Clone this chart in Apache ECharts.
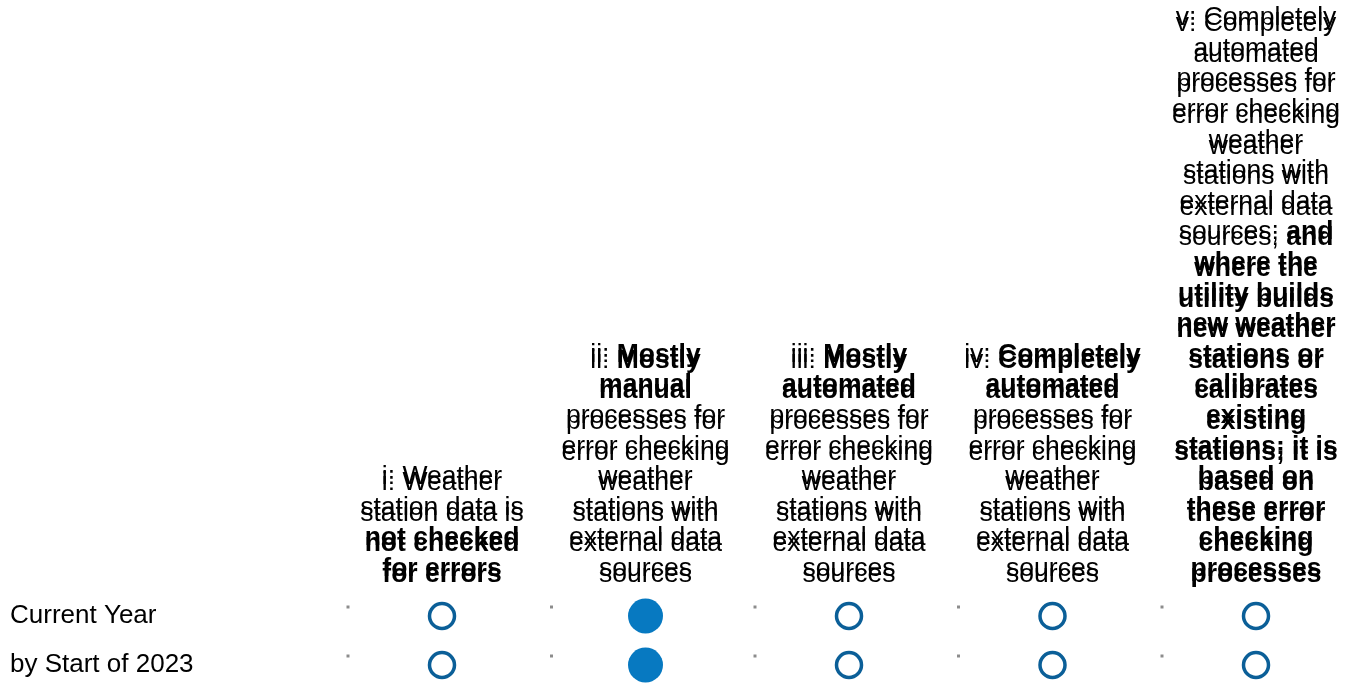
<!DOCTYPE html>
<html>
<head>
<meta charset="utf-8">
<script src="https://cdn.jsdelivr.net/npm/echarts@6/dist/echarts.min.js"></script>
<style>html,body{margin:0;padding:0;background:#fff}#c{width:1348px;height:684px}</style>
</head>
<body>
<div id="c"></div>
<script>
// Column headers: each line is a list of [text, bold]
const categories = ['i', 'ii', 'iii', 'iv', 'v'];
const headerLines = [
  [[['i: ',0],['Weather',0]], [['station data is',0]], [['not checked',1]], [['for errors',1]]],
  [[['ii: ',0],['Mostly',1]], [['manual',1]], [['processes for',0]], [['error checking',0]], [['weather',0]], [['stations with',0]], [['external data',0]], [['sources',0]]],
  [[['iii: ',0],['Mostly',1]], [['automated',1]], [['processes for',0]], [['error checking',0]], [['weather',0]], [['stations with',0]], [['external data',0]], [['sources',0]]],
  [[['iv: ',0],['Completely',1]], [['automated',1]], [['processes for',0]], [['error checking',0]], [['weather',0]], [['stations with',0]], [['external data',0]], [['sources',0]]],
  [[['v: Completely',0]], [['automated',0]], [['processes for',0]], [['error checking',0]], [['weather',0]], [['stations with',0]], [['external data',0]], [['sources; ',0],['and',1]], [['where the',1]], [['utility builds',1]], [['new weather',1]], [['stations or',1]], [['calibrates',1]], [['existing',1]], [['stations; it is',1]], [['based on',1]], [['these error',1]], [['checking',1]], [['processes',1]]]
];
const rows = ['Current Year', 'by Start of 2023'];
// 1 = selected (filled), 0 = not selected (ring)
const currentYear = [0, 1, 0, 0, 0];
const byStart2023 = [0, 1, 0, 0, 0];

const FONT = '"Liberation Sans", Arial, Helvetica, sans-serif';
const rowValues = [currentYear, byStart2023];
const headerText = headerLines.map(lines =>
  lines.map(line => line.map(([t, b]) => '{' + (b ? 'b' : 'n') + '|' + t + '}').join('')).join('\n')
);
const labelMap = {};
categories.forEach((c, i) => labelMap[c] = headerText[i]);

const filled = [], rings = [], marks = [];
rows.forEach((r, ri) => {
  rowValues[ri].forEach((v, ci) => {
    (v ? filled : rings).push([categories[ci], r]);
    marks.push([categories[ci], r]);
  });
});

const rich = {
  n: { fontSize: 26.5, lineHeight: 30.6, fontFamily: FONT, color: '#000' },
  b: { fontSize: 26.5, lineHeight: 30.6, fontFamily: FONT, fontWeight: 'bold', color: '#000' }
};
function xAx(offset) {
  return {
    type: 'category', data: categories, position: 'top', boundaryGap: false, offset: offset,
    axisLine: { show: false }, axisTick: { show: false }, splitLine: { show: false },
    axisLabel: { interval: 0, margin: 26, verticalAlign: 'bottom', align: 'center',
      formatter: v => labelMap[v], rich: rich }
  };
}
const chart = echarts.init(document.getElementById('c'));
chart.setOption({
  animation: false,
  backgroundColor: '#fff',
  grid: { left: 442, right: 92, top: 616, bottom: 19, containLabel: false },
  xAxis: [xAx(0), xAx(6)],
  yAxis: {
    type: 'category', data: rows, inverse: true, boundaryGap: false,
    axisLine: { show: false }, axisTick: { show: false }, splitLine: { show: false },
    axisLabel: { align: 'left', margin: 432, fontSize: 26, fontFamily: FONT, color: '#000',
      padding: [6, 0, 0, 0] }
  },
  series: [
    { type: 'scatter', data: marks, symbol: 'rect', symbolSize: 3, symbolOffset: [-94, -9],
      itemStyle: { color: '#8c8c8c', opacity: 1 }, silent: true },
    { type: 'scatter', data: rings, symbol: 'circle', symbolSize: 25,
      itemStyle: { color: '#fff', borderColor: '#0b5f98', borderWidth: 3.5, opacity: 1 } },
    { type: 'scatter', data: filled, symbol: 'circle', symbolSize: 35,
      itemStyle: { color: '#0779c1', opacity: 1 } }
  ]
});
</script>
</body>
</html>
